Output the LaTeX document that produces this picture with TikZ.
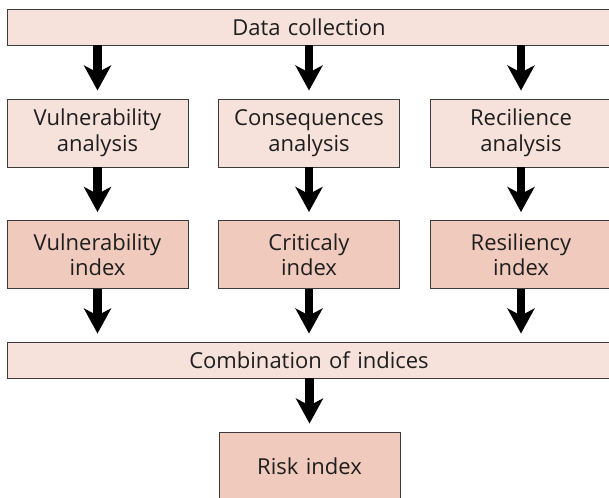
\documentclass[tikz,border=0pt]{standalone}
\usepackage{fontspec}
\setmainfont{Open Sans}
\usepackage{xcolor}
\usetikzlibrary{arrows.meta}

\definecolor{boxlight}{RGB}{247,226,219}
\definecolor{boxdark}{RGB}{241,202,190}
\definecolor{boxline}{RGB}{60,60,60}
\definecolor{textdark}{RGB}{30,30,30}

\begin{document}
\begin{tikzpicture}[x=1pt,y=-1pt,
  font=\fontsize{22}{25.5}\selectfont,
  stagebox/.style={draw=boxline,line width=0.9pt,fill=boxlight,text=textdark,
    minimum width=181pt,minimum height=68pt,align=center,inner sep=0pt,text width=175pt},
  indexbox/.style={stagebox,fill=boxdark},
  widebar/.style={stagebox,minimum width=604pt,minimum height=36pt,text width=590pt},
  flow/.style={line width=8.5pt,shorten >=8pt,
    -{Stealth[width=27pt,length=25pt,inset=7pt]}}]
  \useasboundingbox (0,0) rectangle (609,497);

  % Top bar
  \node[widebar] (data) at (309,27) {Data collection};

  % Analysis boxes
  \node[stagebox] (vana) at (97.5,133) {Vulnerability\\analysis};
  \node[stagebox] (cana) at (309,133) {Consequences\\analysis};
  \node[stagebox] (rana) at (521,133) {Recilience\\analysis};

  % Index boxes
  \node[indexbox] (vidx) at (97.5,254.5) {Vulnerability\\index};
  \node[indexbox] (cidx) at (309,254.5) {Criticaly\\index};
  \node[indexbox] (ridx) at (521,254.5) {Resiliency\\index};

  % Combination bar
  \node[widebar] (comb) at (309,360) {Combination of indices};

  % Final result
  \node[indexbox] (risk) at (309.5,466) {Risk index};

  % Arrows
  \foreach \n in {vana,cana,rana}
    \draw[flow] (data.south -| \n.north) -- (\n.north);
  \draw[flow] (vana) -- (vidx);
  \draw[flow] (cana) -- (cidx);
  \draw[flow] (rana) -- (ridx);
  \foreach \n in {vidx,cidx,ridx}
    \draw[flow] (\n.south) -- (comb.north -| \n.south);
  \draw[flow] (comb.south -| risk.north) -- (risk.north);
\end{tikzpicture}
\end{document}
